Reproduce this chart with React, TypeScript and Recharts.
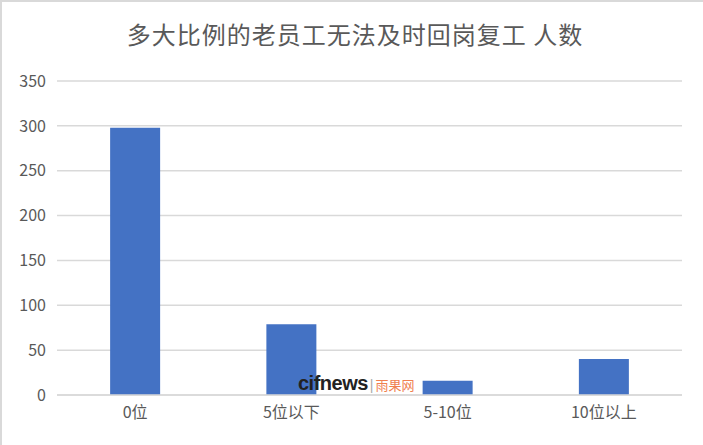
import React from 'react';
import { BarChart, Bar, XAxis, YAxis, CartesianGrid } from 'recharts';

const categories = ['0位', '5位以下', '5-10位', '10位以上'];
const counts = [298, 79, 16, 40];
const yTicks = [0, 50, 100, 150, 200, 250, 300, 350];

const data = categories.map((name, i) => ({ name, value: counts[i] }));

const FONT = '"Noto Sans CJK SC", "Noto Sans", sans-serif';

export default function App() {
  return (
    <div
      style={{
        position: 'absolute',
        left: 0,
        top: 0,
        width: 703,
        height: 445,
        background: '#fff',
        fontFamily: FONT,
        boxSizing: 'border-box',
        borderLeft: '2px solid #d9d9d9',
        borderTop: '2px solid #d9d9d9',
      }}
    >
      <div
        style={{
          position: 'absolute',
          top: 14,
          left: 0,
          width: 706,
          textAlign: 'center',
          fontSize: 24,
          color: '#595959',
          letterSpacing: 1,
        }}
      >
        多大比例的老员工无法及时回岗复工 人数
      </div>
      <BarChart
        width={701}
        height={443}
        data={data}
        margin={{ top: 79, right: 21, left: 0, bottom: 20 }}
        barCategoryGap="34%"
        style={{ position: 'absolute', left: 0, top: 0 }}
      >
        <CartesianGrid vertical={false} stroke="#d9d9d9" strokeWidth={1.5} />
        <XAxis
          dataKey="name"
          axisLine={{ stroke: '#d9d9d9', strokeWidth: 1.5 }}
          tickLine={false}
          tickSize={0}
          tickMargin={12}
          height={30}
          tick={{ fill: '#595959', fontSize: 16, fontFamily: FONT }}
        />
        <YAxis
          domain={[0, 350]}
          ticks={yTicks}
          axisLine={false}
          tickLine={false}
          tickSize={0}
          tickMargin={11}
          width={55}
          tick={{ fill: '#595959', fontSize: 16, fontFamily: FONT }}
        />
        <Bar dataKey="value" fill="#4472c4" isAnimationActive={false} />
      </BarChart>
      <div
        style={{
          position: 'absolute',
          left: 296,
          top: 370,
          display: 'flex',
          alignItems: 'baseline',
          fontFamily: '"Liberation Sans", Arial, sans-serif',
        }}
      >
        <span style={{ fontSize: 20, fontWeight: 700, color: '#222', letterSpacing: -0.5 }}>cifnews</span>
        <span style={{ fontSize: 14, color: '#aaa', margin: '0 2px' }}>|</span>
        <span style={{ fontSize: 13, color: '#f08050', fontFamily: FONT }}>雨果网</span>
      </div>
    </div>
  );
}
